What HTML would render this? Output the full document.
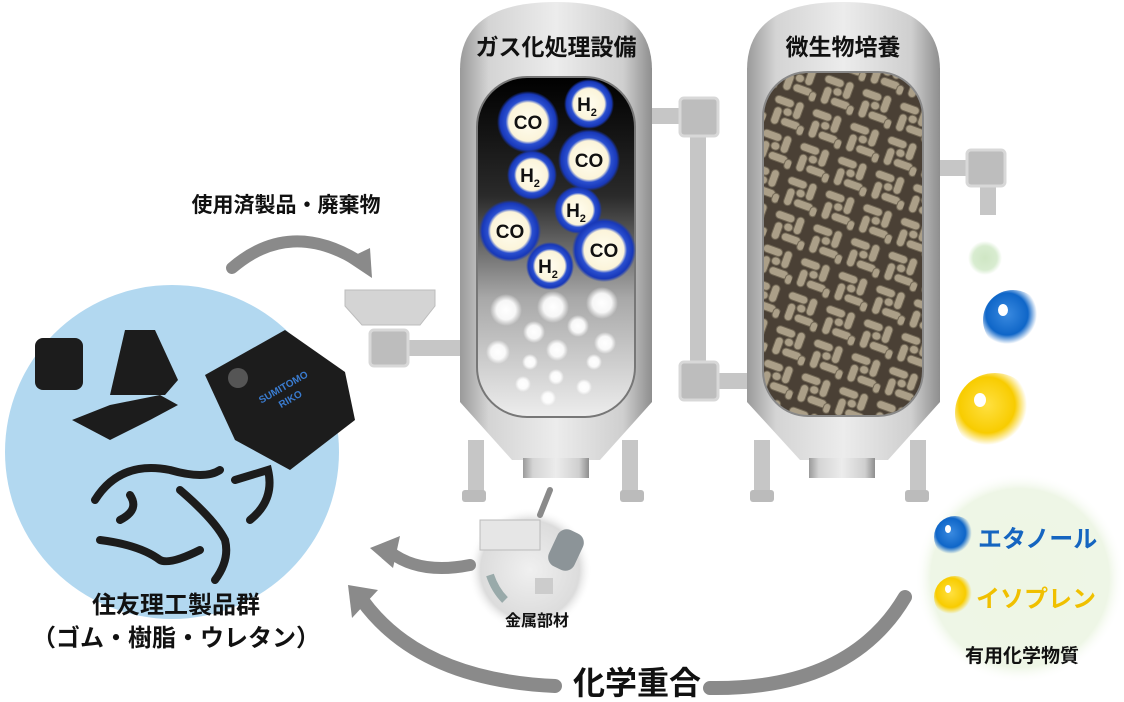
<!DOCTYPE html>
<html><head><meta charset="utf-8"><style>
html,body{margin:0;padding:0;background:#fff;}
svg{display:block}
text{font-family:"Liberation Sans","Noto Sans CJK JP",sans-serif;font-weight:bold}
</style></head><body>
<svg width="1124" height="702" viewBox="0 0 1124 702" xmlns="http://www.w3.org/2000/svg">
<defs>
<linearGradient id="metal" x1="0" x2="1">
<stop offset="0" stop-color="#9a9a9a"/><stop offset="0.15" stop-color="#d4d4d4"/><stop offset="0.5" stop-color="#ececec"/><stop offset="0.85" stop-color="#cfcfcf"/><stop offset="1" stop-color="#8e8e8e"/></linearGradient>
<linearGradient id="gas" x1="0" y1="0" x2="0" y2="1">
<stop offset="0" stop-color="#000"/><stop offset="0.35" stop-color="#2a2a2a"/><stop offset="0.65" stop-color="#a8a8a8"/><stop offset="1" stop-color="#ededed"/></linearGradient>
<radialGradient id="mol"><stop offset="0" stop-color="#fffdf0"/><stop offset="0.62" stop-color="#fbf4da"/><stop offset="0.72" stop-color="#2a4fd0"/><stop offset="0.9" stop-color="#1838b8"/><stop offset="1" stop-color="#1838b8" stop-opacity="0"/></radialGradient>
<radialGradient id="bub"><stop offset="0" stop-color="#fff"/><stop offset="0.6" stop-color="#fff" stop-opacity="0.9"/><stop offset="1" stop-color="#fff" stop-opacity="0"/></radialGradient>
<radialGradient id="blue" cx="0.4" cy="0.4"><stop offset="0" stop-color="#3a8ae0"/><stop offset="0.7" stop-color="#0f66c8"/><stop offset="1" stop-color="#0f66c8" stop-opacity="0"/></radialGradient>
<radialGradient id="yel" cx="0.4" cy="0.4"><stop offset="0" stop-color="#ffe040"/><stop offset="0.7" stop-color="#f8cc00"/><stop offset="1" stop-color="#f8cc00" stop-opacity="0"/></radialGradient>
<radialGradient id="grn"><stop offset="0" stop-color="#cfe6c4"/><stop offset="0.7" stop-color="#d8ecd0"/><stop offset="1" stop-color="#d8ecd0" stop-opacity="0"/></radialGradient>
<radialGradient id="lgrn"><stop offset="0" stop-color="#eef6e4"/><stop offset="0.85" stop-color="#eef6e6"/><stop offset="1" stop-color="#fff" stop-opacity="0"/></radialGradient>
<radialGradient id="met"><stop offset="0" stop-color="#f0f0f0"/><stop offset="0.8" stop-color="#dcdcdc"/><stop offset="1" stop-color="#fff" stop-opacity="0"/></radialGradient>
<pattern id="bact" width="40" height="36" patternUnits="userSpaceOnUse" patternTransform="rotate(20)">
<rect width="40" height="36" fill="#4a4035"/>
<g fill="#ab9f88" stroke="#6f6553" stroke-width="1">
<rect x="2" y="3" width="20" height="8" rx="4"/>
<rect x="24" y="2" width="8" height="18" rx="4"/>
<rect x="5" y="14" width="8" height="18" rx="4"/>
<rect x="15" y="22" width="20" height="8" rx="4"/>
<rect x="14" y="12" width="9" height="8" rx="4"/>
<rect x="33" y="24" width="7" height="10" rx="3.5"/>
</g></pattern>
</defs>

<circle cx="172" cy="452" r="167" fill="#b2d8f0"/>
<circle cx="1020" cy="578" r="105" fill="url(#lgrn)"/>
<circle cx="530" cy="570" r="62" fill="url(#met)"/>

<!-- tank 1 -->
<g>
<rect x="468" y="440" width="16" height="60" fill="#c6c6c6"/><rect x="622" y="440" width="16" height="60" fill="#c6c6c6"/>
<rect x="462" y="490" width="24" height="12" rx="3" fill="#bbb"/><rect x="620" y="490" width="24" height="12" rx="3" fill="#bbb"/>
<path d="M460 70 Q460 2 556 2 Q652 2 652 70 Z" fill="url(#metal)"/>
<rect x="460" y="68" width="192" height="334" fill="url(#metal)"/>
<path d="M460 402 L652 402 L600 460 L512 460 Z" fill="url(#metal)"/>
<rect x="523" y="458" width="66" height="20" fill="url(#metal)"/>
<rect x="477" y="77" width="158" height="340" rx="50" fill="url(#gas)" stroke="#777" stroke-width="2"/>
<text x="556" y="55" font-size="23" text-anchor="middle" fill="#111">ガス化処理設備</text>
</g>
<g fill="url(#bub)">
<circle cx="506" cy="310" r="16"/><circle cx="553" cy="307" r="16"/><circle cx="602" cy="303" r="16"/>
<circle cx="534" cy="332" r="11"/><circle cx="578" cy="326" r="11"/><circle cx="605" cy="343" r="11"/>
<circle cx="498" cy="352" r="12"/><circle cx="557" cy="350" r="11"/><circle cx="530" cy="362" r="8"/>
<circle cx="594" cy="362" r="8"/><circle cx="523" cy="384" r="8"/><circle cx="556" cy="377" r="8"/><circle cx="584" cy="387" r="8"/><circle cx="548" cy="398" r="8"/>
</g>
<g font-size="19" text-anchor="middle" fill="#111">
<circle cx="528" cy="122" r="31" fill="url(#mol)"/><text x="528" y="129">CO</text>
<circle cx="589" cy="104" r="25" fill="url(#mol)"/><text x="587" y="111">H<tspan font-size="11" dy="5">2</tspan></text>
<circle cx="589" cy="160" r="31" fill="url(#mol)"/><text x="589" y="167">CO</text>
<circle cx="532" cy="175" r="25" fill="url(#mol)"/><text x="530" y="182">H<tspan font-size="11" dy="5">2</tspan></text>
<circle cx="578" cy="210" r="24" fill="url(#mol)"/><text x="576" y="217">H<tspan font-size="11" dy="5">2</tspan></text>
<circle cx="510" cy="231" r="31" fill="url(#mol)"/><text x="510" y="238">CO</text>
<circle cx="604" cy="250" r="32" fill="url(#mol)"/><text x="604" y="257">CO</text>
<circle cx="550" cy="266" r="24" fill="url(#mol)"/><text x="548" y="273">H<tspan font-size="11" dy="5">2</tspan></text>
</g>

<rect x="652" y="108" width="35" height="16" fill="#c6c6c6"/>
<rect x="690" y="115" width="16" height="260" fill="#c6c6c6"/>
<rect x="706" y="373" width="42" height="16" fill="#c6c6c6"/>
<rect x="680" y="98" width="38" height="38" rx="4" fill="#bdbdbd" stroke="#d8d8d8" stroke-width="3"/>
<rect x="680" y="362" width="38" height="38" rx="4" fill="#bdbdbd" stroke="#d8d8d8" stroke-width="3"/>

<!-- tank 2 -->
<g>
<rect x="754" y="440" width="16" height="60" fill="#c6c6c6"/><rect x="910" y="440" width="16" height="60" fill="#c6c6c6"/>
<rect x="750" y="490" width="24" height="12" rx="3" fill="#bbb"/><rect x="905" y="490" width="24" height="12" rx="3" fill="#bbb"/>
<path d="M747 70 Q747 2 843 2 Q940 2 940 70 Z" fill="url(#metal)"/>
<rect x="747" y="68" width="193" height="334" fill="url(#metal)"/>
<path d="M747 402 L940 402 L888 460 L800 460 Z" fill="url(#metal)"/>
<rect x="809" y="458" width="66" height="20" fill="url(#metal)"/>
<rect x="763" y="72" width="160" height="344" rx="45" fill="url(#bact)" stroke="#888" stroke-width="2"/>
<text x="843" y="55" font-size="23" text-anchor="middle" fill="#111">微生物培養</text>
</g>
<rect x="940" y="160" width="35" height="16" fill="#c6c6c6"/>
<rect x="980" y="175" width="16" height="40" fill="#c6c6c6"/>
<rect x="967" y="150" width="38" height="36" rx="4" fill="#bdbdbd" stroke="#d8d8d8" stroke-width="3"/>

<path d="M345 290 L435 290 L435 306 L420 325 L362 325 L345 306 Z" fill="#d4d4d4" stroke="#bdbdbd"/>
<rect x="405" y="340" width="55" height="16" fill="#c6c6c6"/>
<rect x="370" y="330" width="38" height="36" rx="4" fill="#bdbdbd" stroke="#d8d8d8" stroke-width="3"/>

<circle cx="985" cy="258" r="17" fill="url(#grn)"/>
<circle cx="1013" cy="320" r="30" fill="url(#blue)"/><ellipse cx="1003" cy="310" rx="5" ry="6" fill="#fff"/>
<circle cx="995" cy="413" r="40" fill="url(#yel)"/><ellipse cx="980" cy="400" rx="6" ry="7" fill="#fff"/>

<g fill="none" stroke="#8a8a8a" stroke-linecap="round">
<path d="M232 268 Q290 218 360 262" stroke-width="12"/>
<path d="M550 490 L540 515" stroke-width="6"/>
<path d="M470 565 Q420 575 390 552" stroke-width="12"/>
<path d="M905 597 Q850 690 710 688" stroke-width="14"/>
<path d="M555 686 Q420 680 362 600" stroke-width="14"/>
</g>
<g fill="#8a8a8a">
<polygon points="345,260 372,278 370,248"/>
<polygon points="370,548 400,536 393,568"/>
<polygon points="348,585 378,590 352,618"/>
</g>

<g fill="#1c1c1c">
<path d="M205 375 L285 330 L345 372 L355 420 L290 470 L235 440 Z"/>
<rect x="35" y="338" width="48" height="52" rx="8"/>
<path d="M110 395 L125 330 L155 330 L178 380 L165 395 Z"/>
<path d="M72 420 L110 405 L160 395 L178 405 L150 420 L110 440 Z"/>
</g>
<circle cx="238" cy="378" r="10" fill="#555"/>
<text x="285" y="390" font-size="10" fill="#3a7cd0" transform="rotate(-30 285 390)" text-anchor="middle" font-weight="normal">SUMITOMO</text>
<text x="292" y="402" font-size="10" fill="#3a7cd0" transform="rotate(-30 292 402)" text-anchor="middle" font-weight="normal">RIKO</text>
<g fill="none" stroke="#1c1c1c" stroke-width="8" stroke-linecap="round">
<path d="M95 500 Q120 460 170 470 Q205 480 220 470"/>
<path d="M180 490 Q215 520 225 540 Q230 560 215 580"/>
<path d="M100 540 Q140 545 160 560 Q170 565 200 550"/>
<path d="M235 480 L268 470 Q275 500 250 520"/>
<path d="M130 495 Q140 510 120 520"/>
</g>

<g>
<rect x="480" y="520" width="60" height="30" fill="#e6e6e6" stroke="#bbb"/>
<rect x="552" y="530" width="28" height="40" rx="10" fill="#8c9498" transform="rotate(25 566 550)"/>
<path d="M490 575 Q495 590 505 600" stroke="#9aa" stroke-width="8" fill="none"/>
<rect x="535" y="578" width="18" height="16" fill="#ccc"/>
</g>

<text x="286" y="212" font-size="21" text-anchor="middle" fill="#111">使用済製品・廃棄物</text>
<text x="176" y="613" font-size="24" text-anchor="middle" fill="#111">住友理工製品群</text>
<text x="176" y="646" font-size="24" text-anchor="middle" fill="#111">（ゴム・樹脂・ウレタン）</text>
<text x="537" y="626" font-size="16" text-anchor="middle" fill="#111">金属部材</text>
<text x="637" y="694" font-size="32" text-anchor="middle" fill="#111">化学重合</text>
<circle cx="955" cy="537" r="21" fill="url(#blue)"/><ellipse cx="948" cy="529" rx="3" ry="4" fill="#fff"/>
<text x="978" y="547" font-size="24" fill="#1565c0" font-weight="normal">エタノール</text>
<circle cx="955" cy="597" r="21" fill="url(#yel)"/><ellipse cx="948" cy="589" rx="3" ry="4" fill="#fff"/>
<text x="976" y="607" font-size="24" fill="#f0c000" font-weight="normal">イソプレン</text>
<text x="1022" y="662" font-size="19" text-anchor="middle" fill="#111">有用化学物質</text>
</svg>
</body></html>
